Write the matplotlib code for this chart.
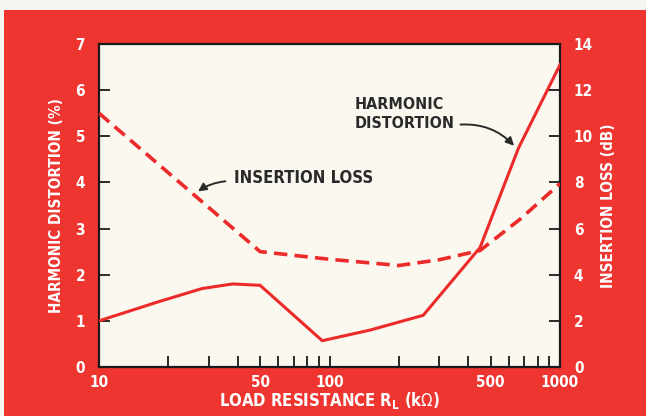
import matplotlib
matplotlib.use("Agg")
import matplotlib.pyplot as plt
from matplotlib.patches import Rectangle
from matplotlib.ticker import FixedLocator, NullFormatter, FixedFormatter

plt.rcParams['font.family'] = ['DejaVu Sans']
plt.rcParams['font.stretch'] = 'condensed'

# Load resistance (kOhm) and harmonic distortion (%)
hd_r = [10, 18, 28, 38, 50, 93, 150, 255, 450, 660, 1000]
hd_pct = [1.0, 1.41, 1.70, 1.80, 1.77, 0.57, 0.80, 1.12, 2.59, 4.74, 6.55]

# Load resistance (kOhm) and insertion loss (dB)
il_r = [10, 50, 100, 200, 300, 450, 670, 1000]
il_db = [11.0, 5.0, 4.67, 4.40, 4.65, 5.05, 6.4, 7.95]

x_major = [10, 50, 100, 500, 1000]
x_minor = [20, 30, 40, 60, 70, 80, 90, 200, 300, 400, 600, 700, 800, 900]
left_ticks = [0, 1, 2, 3, 4, 5, 6, 7]
right_ticks = [0, 2, 4, 6, 8, 10, 12, 14]

RED = '#EE3530'
LINE = '#EC2A2A'
PAPER = '#FBF8F0'
INK = '#2A2A2A'

fig = plt.figure(figsize=(6.46, 4.16), dpi=100)
fig.patch.set_facecolor('#F7F5F0')
fig.patches.append(Rectangle((4 / 646, 0), 1, 1 - 10 / 416, transform=fig.transFigure,
                             facecolor=RED, edgecolor='none', zorder=-10))

ax = fig.add_axes([99 / 646, 1 - 367 / 416, 461 / 646, 323 / 416])
ax.set_facecolor(PAPER)
ax.set_xscale('log')
ax.set_xlim(10, 1000)
ax.set_ylim(0, 7)

for s in ax.spines.values():
    s.set_color('#1a1a1a')
    s.set_linewidth(1.6)

ax.xaxis.set_major_locator(FixedLocator(x_major))
ax.xaxis.set_major_formatter(FixedFormatter([str(v) for v in x_major]))
ax.xaxis.set_minor_locator(FixedLocator(x_minor))
ax.xaxis.set_minor_formatter(NullFormatter())
ax.tick_params(axis='x', which='both', direction='in', length=8, width=1.3,
               color='#1a1a1a', labelcolor='white', labelsize=11, pad=6)
ax.set_yticks(left_ticks)
ax.tick_params(axis='y', direction='in', length=8, width=1.3, color='#1a1a1a',
               labelcolor='white', labelsize=11, pad=10)
for lab in ax.get_xticklabels() + ax.get_yticklabels():
    lab.set_fontweight('bold')

ax2 = ax.twinx()
ax2.set_ylim(0, 14)
ax2.set_yticks(right_ticks)
ax2.tick_params(axis='y', direction='in', length=8, width=1.3, color='#1a1a1a',
                labelcolor='white', labelsize=11, pad=10)
for lab in ax2.get_yticklabels():
    lab.set_fontweight('bold')
for s in ax2.spines.values():
    s.set_visible(False)

ax.plot(hd_r, hd_pct, color=LINE, lw=2.2, solid_joinstyle='miter', zorder=3)
ax2.plot(il_r, il_db, color=LINE, lw=2.6, dashes=(3.7, 2.0), zorder=3)

ax.set_xlabel('LOAD RESISTANCE R$_\\mathregular{L}$ (k$\\Omega$)', color='white',
              fontsize=12, fontweight='bold')
ax.xaxis.set_label_coords(0.5, -0.07)
ax.set_ylabel('HARMONIC DISTORTION (%)', color='white', fontsize=11,
              fontweight='bold', labelpad=8)
ax2.set_ylabel('INSERTION LOSS (dB)', color='white', fontsize=11,
               fontweight='bold', labelpad=6)

ax.text(129, 5.48, 'HARMONIC\nDISTORTION', fontsize=11.5, fontweight='bold',
        color=INK, ha='left', va='center', linespacing=1.3)
ax.annotate('', xy=(644, 4.75), xytext=(360, 5.25),
            arrowprops=dict(arrowstyle='-|>', color=INK, lw=1.4,
                            connectionstyle='arc3,rad=-0.25', mutation_scale=12))

ax2.text(38.5, 8.19, 'INSERTION LOSS', fontsize=12, fontweight='bold',
         color=INK, ha='left', va='center')
ax2.annotate('', xy=(26.3, 7.54), xytext=(36.3, 8.06),
             arrowprops=dict(arrowstyle='-|>', color=INK, lw=1.4,
                             connectionstyle='arc3,rad=0.15', mutation_scale=12))

fig.savefig('out.png', dpi=100, facecolor=fig.get_facecolor())
